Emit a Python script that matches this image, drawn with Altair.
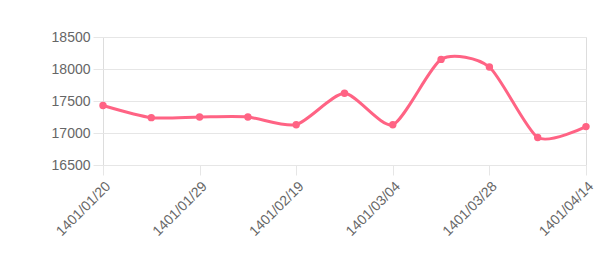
import altair as alt
import pandas as pd

dates = ["1401/01/20", "1401/01/24", "1401/01/29", "1401/02/05", "1401/02/19",
         "1401/02/26", "1401/03/04", "1401/03/14", "1401/03/28", "1401/04/07",
         "1401/04/14"]
prices = [17430, 17240, 17250, 17250, 17130, 17620, 17130, 18150, 18030, 16930, 17100]
shown_dates = dates[::2]
y_ticks = [16500, 17000, 17500, 18000, 18500]

df = pd.DataFrame({"date": dates, "price": prices})

x = alt.X("date:O", sort=dates, title=None,
          scale=alt.Scale(type="point", padding=0),
          axis=alt.Axis(values=shown_dates, labelAngle=-45, labelAlign="right",
                        labelBaseline="top", labelFont="Liberation Sans",
                        labelFontSize=14, labelColor="#666", tickSize=10,
                        tickColor="#e6e6e6", labelPadding=4, gridColor="#e6e6e6",
                        domain=False))
y = alt.Y("price:Q", title=None,
          scale=alt.Scale(domain=[16500, 18500], nice=False, zero=False),
          axis=alt.Axis(values=y_ticks, format="d", labelFont="Liberation Sans",
                        labelFontSize=14, labelColor="#666", tickSize=10,
                        tickColor="#e6e6e6", labelPadding=3, gridColor="#e6e6e6",
                        domain=False))

base = alt.Chart(df).encode(x=x, y=y)
line = base.mark_line(interpolate="cardinal", tension=0.3, color="#FF6384", strokeWidth=3)
pts = base.mark_point(filled=True, color="#FF6384", size=55, opacity=1)

chart = (line + pts).properties(
    width=483, height=128,
    autosize=alt.AutoSizeParams(type="none"),
    padding={"left": 103, "top": 37, "right": 24, "bottom": 108},
).configure_view(stroke=None).configure(background="white")

chart.save("out.html", embed_options={"renderer": "svg", "actions": False})
